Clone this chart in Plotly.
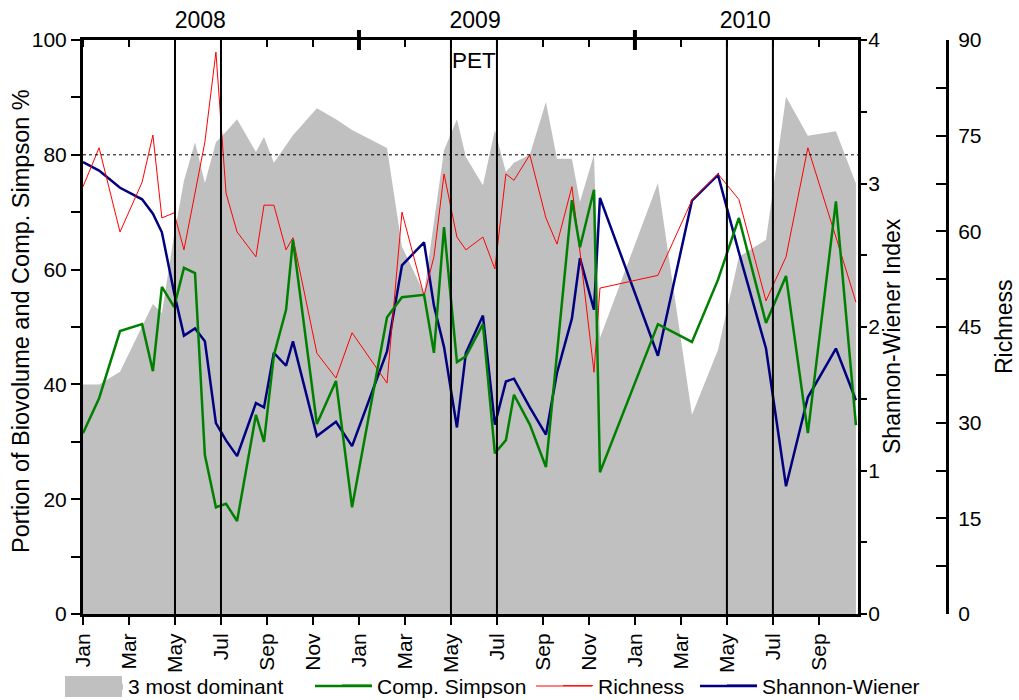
import plotly.graph_objects as go

# ---- data (months since Jan 2008) ----
months = [0.00, 0.70, 1.61, 2.57, 3.04, 3.43, 3.96, 4.39, 4.87, 5.30, 5.78, 6.22, 6.70,
          7.52, 7.87, 8.30, 8.83, 9.13, 10.17, 11.00, 11.70, 12.91, 13.22, 13.87, 14.83,
          15.26, 15.70, 16.26, 16.65, 17.39, 17.91, 18.39, 18.74, 19.43, 20.13, 20.61,
          21.26, 21.61, 22.22, 22.48, 25.00, 26.48, 27.61, 28.52, 29.70, 30.57, 31.52,
          32.74, 33.61]

dominant3 = [40, 40, 42.2, 50.3, 54, 52.4, 66, 75.5, 82.2, 75.1, 82.2, 84, 86.2,
             80.5, 83.1, 78.6, 81.7, 83.4, 88.1, 86.2, 84.3, 81.9, 81.2, 64, 55.9,
             68.3, 80.8, 86.2, 79.6, 74.7, 84.3, 77, 78.6, 80, 89.2, 79.3,
             79.3, 71.8, 80, 48.1, 75.1, 34.7, 46, 62.2, 65.2, 90.1, 83.3,
             84.1, 75]

comp_simpson = [31.5, 37.6, 49.3, 50.5, 42.3, 57, 53.5, 60.3, 59.4, 27.7, 18.6, 19.2, 16.2,
                34.7, 30, 45.1, 53, 65.2, 33.1, 40.6, 18.6, 45.3, 51.7, 55.2, 55.6,
                45.5, 67.4, 43.9, 44.9, 50.5, 28, 30.3, 38.2, 33, 25.6, 45.3,
                72.1, 63.9, 73.9, 24.7, 50.5, 47.4, 58.2, 69, 50.7, 58.9, 31.5,
                71.9, 32.9]

richness = [67, 73.1, 59.9, 67.7, 75.1, 62.1, 62.9, 57.1, 66, 74, 88.1, 66, 59.9,
            56, 64.1, 64.1, 57.1, 59, 40.9, 37, 44.1, 37.9, 36.2, 63, 49.9,
            56, 69, 59.1, 57.1, 59.1, 54.1, 69, 68, 72, 62.1, 58,
            67, 56.8, 37.9, 51.1, 53.1, 64.9, 69, 65, 49.1, 56, 73.1,
            59.1, 48.9]

shannon = [3.15, 3.09, 2.97, 2.89, 2.79, 2.66, 2.24, 1.94, 1.99, 1.90, 1.33, 1.21, 1.10,
           1.47, 1.44, 1.82, 1.73, 1.90, 1.24, 1.34, 1.17, 1.69, 1.83, 2.43, 2.59,
           2.15, 1.86, 1.30, 1.82, 2.08, 1.32, 1.62, 1.64, 1.44, 1.25, 1.68,
           2.06, 2.48, 2.12, 2.90, 1.80, 2.88, 3.06, 2.52, 1.85, 0.89, 1.51,
           1.85, 1.49]

tick_pos = list(range(0, 34, 2))
tick_text = (['Jan', 'Mar', 'May', 'Jul', 'Sep', 'Nov'] * 3)[:len(tick_pos)]
year_pos = [5.1, 17.05, 28.8]
year_text = ['2008', '2009', '2010']
year_bounds = [12, 24]
event_lines = [4, 6, 16, 18, 28, 30]
pet_pos = 17
threshold = 80

left_ticks = [0, 20, 40, 60, 80, 100]
left_minor = [10, 30, 50, 70, 90]
sw_ticks = [0, 1, 2, 3, 4]
sw_minor = [0.5, 1.5, 2.5, 3.5]
rich_ticks = [0, 15, 30, 45, 60, 75, 90]
rich_minor = [7.5, 22.5, 37.5, 52.5, 67.5, 82.5]

# ---- layout geometry ----
X_MAX = 33.7
W, H = 1019, 700
L, R, T, B = 83, 72, 40, 86
PLOT_RIGHT = 858
PAPER_W = W - L - R
PLOT_H = H - T - B
dom_end = (PLOT_RIGHT - L) / PAPER_W

FONT = 'Arial, Liberation Sans, sans-serif'
FS = 21
GRAY = '#c0c0c0'
GREEN = '#008000'
RED = '#ff0000'
NAVY = '#000080'


def px_x(p):
    return (p - L) / PAPER_W


def px_y(p):
    return (H - B - p) / PLOT_H


fig = go.Figure()
fig.add_trace(go.Scatter(x=months, y=dominant3, name='3 most dominant', mode='lines',
                         fill='tozeroy', fillcolor=GRAY,
                         line=dict(width=0, color=GRAY),
                         xaxis='x', yaxis='y', legend='legend2'))
fig.add_trace(go.Scatter(x=months, y=comp_simpson, name='Comp. Simpson', mode='lines',
                         line=dict(color=GREEN, width=2.5),
                         xaxis='x2', yaxis='y', legend='legend3'))
fig.add_trace(go.Scatter(x=months, y=shannon, name='Shannon-Wiener', mode='lines',
                         line=dict(color=NAVY, width=2.5),
                         xaxis='x', yaxis='y2', legend='legend5'))
fig.add_trace(go.Scatter(x=months, y=richness, name='Richness', mode='lines',
                         line=dict(color=RED, width=1),
                         xaxis='x', yaxis='y3', legend='legend4'))

shapes = []
for xv in event_lines:
    shapes.append(dict(type='line', xref='x', yref='y domain', x0=xv, x1=xv, y0=0, y1=1,
                       line=dict(color='black', width=2)))
shapes.append(dict(type='line', xref='x domain', yref='y', x0=0, x1=1,
                   y0=threshold, y1=threshold,
                   line=dict(color='black', width=1, dash='dot')))
for xv in year_bounds:
    shapes.append(dict(type='line', xref='x', yref='y domain', x0=xv, x1=xv,
                       y0=1 - 10 / PLOT_H, y1=1 + 10 / PLOT_H,
                       line=dict(color='black', width=4)))

# wider legend keys, as in the original figure
shapes.append(dict(type='rect', xref='paper', yref='paper',
                   x0=px_x(65), x1=px_x(122), y0=px_y(697), y1=px_y(676),
                   fillcolor=GRAY, line=dict(width=0)))
for (x0, x1, yy, col, wd) in [(315, 372, 686, GREEN, 2.5), (536, 592, 686, RED, 1),
                              (700, 757, 686, NAVY, 2.5)]:
    shapes.append(dict(type='line', xref='paper', yref='paper',
                       x0=px_x(x0), x1=px_x(x1), y0=px_y(yy), y1=px_y(yy),
                       line=dict(color=col, width=wd)))

axis_common = dict(showgrid=False, zeroline=False, showline=True, linecolor='black',
                   tickcolor='black', tickfont=dict(family=FONT, size=FS, color='black'))

legend_common = dict(orientation='h', yanchor='middle', xanchor='left',
                     y=px_y(686), bgcolor='rgba(0,0,0,0)', borderwidth=0,
                     font=dict(family=FONT, size=FS, color='black'), itemwidth=30)

annotations = [
    dict(text='PET', xref='x', yref='y domain', x=pet_pos, y=1,
         yanchor='top', yshift=-6, showarrow=False,
         font=dict(family=FONT, size=22.5, color='black')),
    dict(text='Portion of Biovolume and Comp. Simpson %', xref='paper', yref='paper',
         x=px_x(21), y=px_y(321), xanchor='center', yanchor='middle', textangle=-90,
         showarrow=False, font=dict(family=FONT, size=23.5, color='black')),
    dict(text='Shannon-Wiener Index', xref='paper', yref='paper',
         x=px_x(892), y=px_y(336), xanchor='center', yanchor='middle', textangle=-90,
         showarrow=False, font=dict(family=FONT, size=23, color='black')),
    dict(text='Richness', xref='paper', yref='paper',
         x=px_x(1004), y=px_y(327), xanchor='center', yanchor='middle', textangle=-90,
         showarrow=False, font=dict(family=FONT, size=23, color='black')),
]

fig.update_layout(
    width=W, height=H,
    margin=dict(l=L, r=R, t=T, b=B, autoexpand=False),
    paper_bgcolor='white', plot_bgcolor='white',
    font=dict(family=FONT, size=FS, color='black'),
    showlegend=True,
    xaxis=dict(domain=[0, dom_end], range=[0, X_MAX], tickmode='array',
               tickvals=tick_pos, ticktext=tick_text, tickangle=-90,
               ticks='outside', ticklen=8, tickwidth=2, linewidth=3, anchor='y',
               **axis_common),
    xaxis2=dict(domain=[0, dom_end], range=[0, X_MAX], overlaying='x', side='top',
                anchor='y', tickmode='array', tickvals=year_pos, ticktext=year_text,
                ticks='', linewidth=2.5,
                minor=dict(tickmode='array', tickvals=tick_pos, ticks='inside',
                           ticklen=7, tickwidth=2, tickcolor='black'),
                showgrid=False, zeroline=False, showline=True, linecolor='black',
                tickfont=dict(family=FONT, size=23, color='black')),
    yaxis=dict(range=[0, 100], tickmode='array', tickvals=left_ticks,
               ticks='outside', ticklen=9, tickwidth=2, linewidth=3,
               minor=dict(tickmode='array', tickvals=left_minor, ticks='outside',
                          ticklen=9, tickwidth=2, tickcolor='black'),
               **axis_common),
    yaxis2=dict(range=[0, 4], overlaying='y', side='right', anchor='x',
                tickmode='array', tickvals=sw_ticks,
                ticks='outside', ticklen=6, tickwidth=2, linewidth=3,
                ticklabelstandoff=-3,
                minor=dict(tickmode='array', tickvals=sw_minor, ticks='outside',
                           ticklen=6, tickwidth=2, tickcolor='black'),
                **axis_common),
    yaxis3=dict(range=[0, 90], overlaying='y', side='right', anchor='free', position=1,
                tickmode='array', tickvals=rich_ticks,
                ticks='inside', ticklen=10, tickwidth=2, linewidth=3,
                ticklabelstandoff=5,
                minor=dict(tickmode='array', tickvals=rich_minor, ticks='inside',
                           ticklen=10, tickwidth=2, tickcolor='black'),
                **axis_common),
    shapes=shapes,
    annotations=annotations,
    legend2=dict(x=px_x(88), **legend_common),
    legend3=dict(x=px_x(337), **legend_common),
    legend4=dict(x=px_x(558), **legend_common),
    legend5=dict(x=px_x(722), **legend_common),
)

fig.write_html('out.html', config={'displayModeBar': False},
               post_script="document.body.style.margin='0px';")
